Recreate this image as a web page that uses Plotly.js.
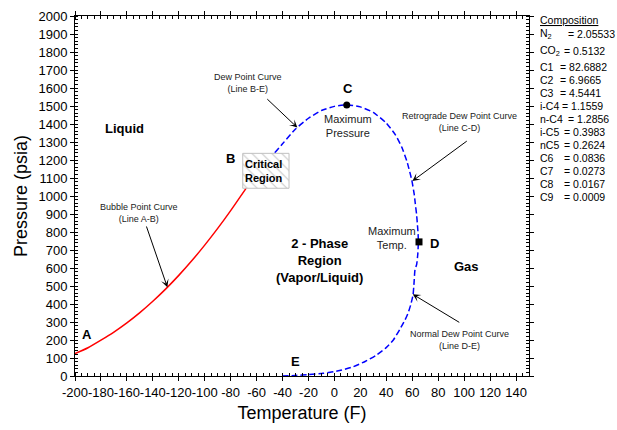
<!DOCTYPE html>
<html>
<head>
<meta charset="utf-8">
<script src="https://cdn.plot.ly/plotly-3.0.1.min.js"></script>
<style>html,body{margin:0;padding:0;background:#fff;}#chart{width:617px;height:430px;}</style>
</head>
<body>
<div id="chart"></div>
<script>
// ---- Data ----
const bubbleT = [-200,-190,-180,-170,-160,-150,-140,-130,-120,-110,-100,-90,-80,-68];
const bubbleP = [124,157,199,244,295,352,415,484,559,640,727,820,919,1044];

const dewT = [-46,-40,-30,-20,-10,0,10,20,30,40,47,52,56,59.6,61.5,62.3,63.3,63.9,64.5,64.7,64.3,63.4,62.1,61.4,60.6,58.8,56.8,54.4,50.5,45.4,39.5,32.6,24,14.6,4,-8.6,-20,-30,-40];
const dewP = [1240,1290,1372,1432,1475,1498,1506,1495,1464,1405,1340,1270,1190,1089,1010,960,900,848,790,745,680,620,589,520,450,395,350,311,260,200,155,117,82,52,30,15,8,3,0];

const maxPressureT = [9.5];
const maxPressureP = [1506];
const maxTempT = [65.2];
const maxTempP = [745];

const criticalT = [-70.7,-35,-35,-70.7,-70.7];
const criticalP = [1043,1043,1237,1237,1043];

const compNames = ['N<sub>2</sub>','CO<sub>2</sub>','C1','C2','C3','i-C4','n-C4','i-C5','nC5','C6','C7','C8','C9'];
const compValues = ['2.05533','0.5132','82.6882','6.9665','4.5441','1.1559','1.2856','0.3983','0.2624','0.0836','0.0273','0.0167','0.0009'];

const xTicks = [-200,-180,-160,-140,-120,-100,-80,-60,-40,-20,0,20,40,60,80,100,120,140];
const yTicks = [0,100,200,300,400,500,600,700,800,900,1000,1100,1200,1300,1400,1500,1600,1700,1800,1900,2000];

// ---- Plot ----
const FONT = 'Arial, "Liberation Sans", sans-serif';

const traces = [
  {x: bubbleT, y: bubbleP, mode: 'lines', line: {color: '#ff0000', width: 1.5, shape: 'spline', smoothing: 0.6}, hoverinfo: 'none'},
  {x: dewT, y: dewP, mode: 'lines', line: {color: '#0000ff', width: 1.5, dash: '6px,3px', shape: 'spline', smoothing: 0.5}, hoverinfo: 'none'},
  {x: criticalT, y: criticalP, mode: 'lines', fill: 'toself', fillcolor: 'white',
   fillpattern: {shape: '\\', fgcolor: '#c8c8c8', bgcolor: 'white', size: 7, solidity: 0.15},
   line: {color: '#c0c0c0', width: 1}, hoverinfo: 'none'},
  {x: maxPressureT, y: maxPressureP, mode: 'markers', marker: {symbol: 'circle', color: 'black', size: 7}, hoverinfo: 'none'},
  {x: maxTempT, y: maxTempP, mode: 'markers', marker: {symbol: 'square', color: 'black', size: 7}, hoverinfo: 'none'}
];

function txt(x, y, text, size, bold, extra) {
  return Object.assign({x: x, y: y, xref: 'x', yref: 'y', text: bold ? '<b>' + text + '</b>' : text,
    showarrow: false, font: {family: FONT, size: size, color: bold ? '#000' : '#222'}, xanchor: 'center', yanchor: 'middle'}, extra || {});
}
function arrow(tx, ty, hx, hy) {
  return {x: hx, y: hy, ax: tx, ay: ty, xref: 'x', yref: 'y', axref: 'x', ayref: 'y', text: '',
    showarrow: true, arrowhead: 3, arrowsize: 1.3, arrowwidth: 1, arrowcolor: '#000'};
}

const annotations = [
  txt(-162.2, 1376, 'Liquid', 13, true),
  txt(-80.5, 1209, 'B', 13, true),
  txt(10.5, 1600, 'C', 13, true),
  txt(77, 738, 'D', 13, true),
  txt(-190.5, 228, 'A', 13, true),
  txt(-30.4, 83, 'E', 13, true),
  txt(101.5, 611, 'Gas', 13, true),
  txt(-54.3, 1138, 'Critical<br>Region', 11, true),
  txt(-11.3, 644, '2 - Phase<br>Region<br>(Vapor/Liquid)', 13, true),
  txt(10.2, 1391, 'Maximum<br>Pressure', 11, false),
  txt(44.4, 764, 'Maximum<br>Temp.', 11, false),
  txt(-66.4, 1629, 'Dew Point Curve<br>(Line B-E)', 9, false),
  txt(96.8, 1410, 'Retrograde Dew Point Curve<br>(Line C-D)', 9, false),
  txt(96.8, 202, 'Normal Dew Point Curve<br>(Line D-E)', 9, false),
  txt(-150.4, 907, 'Bubble Point Curve<br>(Line A-B)', 9, false),
  arrow(-52.9, 1546, -28.6, 1380),
  arrow(103.2, 1311, 60.1, 1083),
  arrow(97.4, 293, 60.4, 454),
  arrow(-145.3, 839, -128.8, 493)
];

// Composition block (right of the plot, paper coordinates)
const plotL = 75, plotR = 529, plotT = 16, plotB = 376;
const px2paperX = px => (px - plotL) / (plotR - plotL);
const px2paperY = py => (plotB - py) / (plotB - plotT);
const compRowY = [34.3, 51, 67, 80, 93.3, 106, 119, 131.7, 145, 158.3, 170.7, 184, 196.7];
const compEqX = [566, 562, 558, 558, 558, 560, 566, 562, 562, 562, 562, 562, 562];
const COMP_SIZE = 10.5;

annotations.push({xref: 'paper', yref: 'paper', x: px2paperX(538), y: px2paperY(20), xanchor: 'left', yanchor: 'middle',
  text: '<span style="text-decoration:underline">Composition</span>', showarrow: false, font: {family: FONT, size: COMP_SIZE, color: '#000'}});
compNames.forEach((n, i) => {
  annotations.push({xref: 'paper', yref: 'paper', x: px2paperX(538), y: px2paperY(compRowY[i]), xanchor: 'left', yanchor: 'middle',
    text: n, showarrow: false, font: {family: FONT, size: COMP_SIZE, color: '#000'}});
  annotations.push({xref: 'paper', yref: 'paper', x: px2paperX(compEqX[i]), y: px2paperY(compRowY[i]), xanchor: 'left', yanchor: 'middle',
    text: '= ' + compValues[i], showarrow: false, font: {family: FONT, size: COMP_SIZE, color: '#000'}});
});

const axisCommon = {
  showgrid: false, zeroline: false, showline: true, linecolor: '#000', linewidth: 1,
  mirror: 'ticks', ticks: 'outside', ticklen: 4, tickcolor: '#000', tickwidth: 1,
  tickfont: {family: FONT, size: 13, color: '#000'}, tickangle: 0
};

const layout = {
  width: 617, height: 430,
  margin: {l: plotL, r: 617 - plotR, t: plotT, b: 430 - plotB},
  paper_bgcolor: '#fff', plot_bgcolor: '#fff',
  showlegend: false,
  font: {family: FONT},
  xaxis: Object.assign({}, axisCommon, {
    range: [-200, 150], tickmode: 'array', tickvals: xTicks, ticktext: xTicks.map(String),
    minor: {dtick: 5, tick0: 0, ticks: 'inside', ticklen: 3, tickcolor: '#000', showgrid: false},
    title: {text: 'Temperature (F)', font: {family: FONT, size: 18, color: '#000'}, standoff: 7}
  }),
  yaxis: Object.assign({}, axisCommon, {
    range: [0, 2000], tickmode: 'array', tickvals: yTicks, ticktext: yTicks.map(String),
    minor: {dtick: 20, tick0: 0, ticks: 'inside', ticklen: 3, tickcolor: '#000', showgrid: false},
    title: {text: 'Pressure (psia)', font: {family: FONT, size: 18, color: '#000'}, standoff: 6}
  }),
  annotations: annotations
};

Plotly.newPlot('chart', traces, layout, {staticPlot: true, displayModeBar: false});
</script>
</body>
</html>
